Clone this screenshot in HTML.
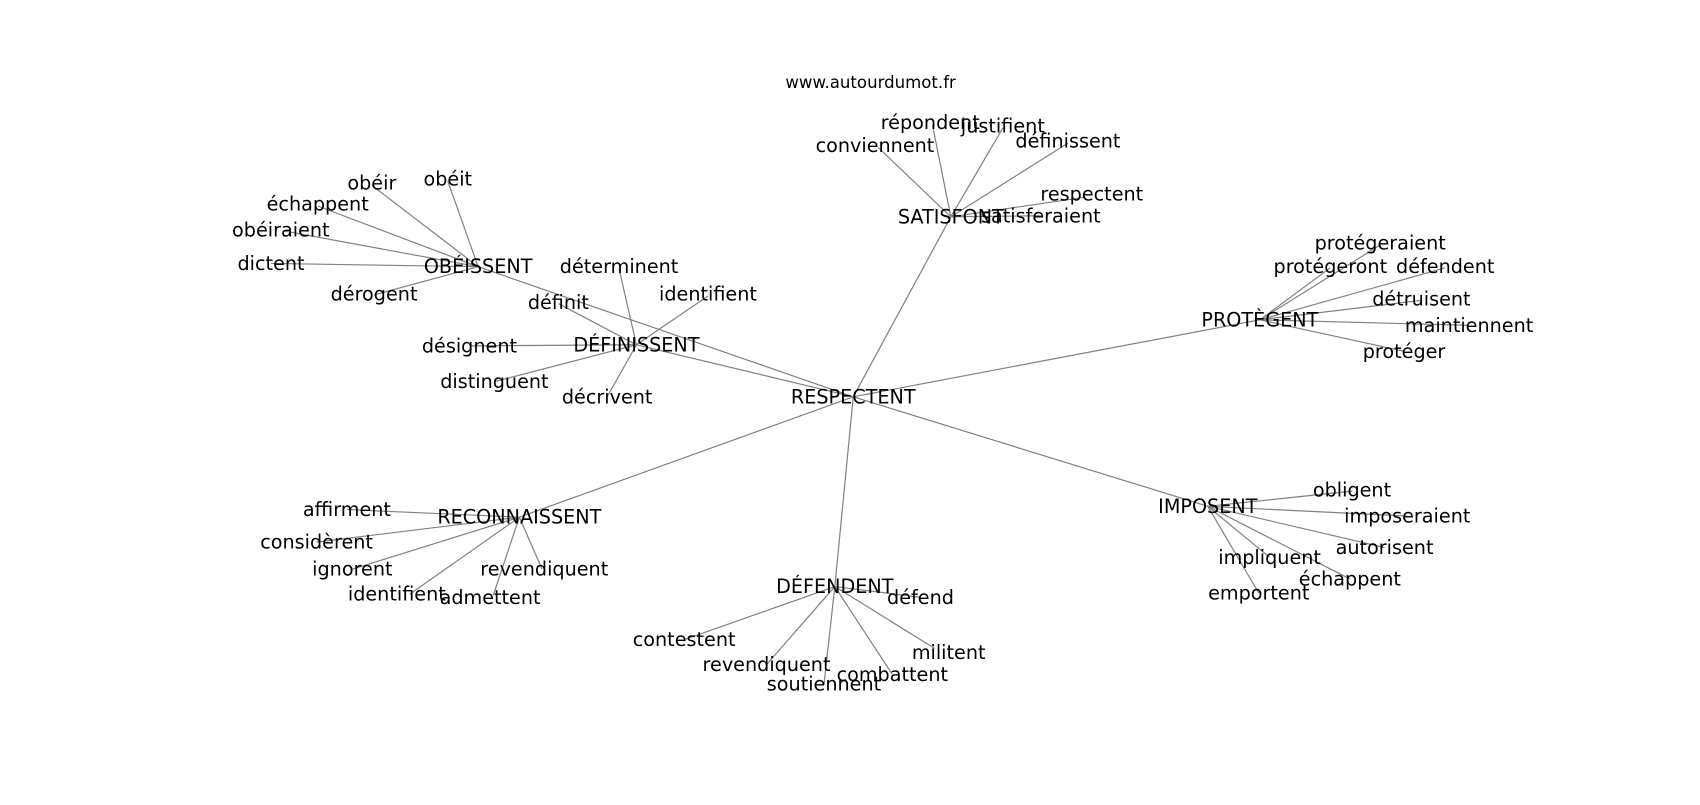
<!DOCTYPE html>
<html><head><meta charset="utf-8"><style>
html,body{margin:0;padding:0;background:#fff;}
svg text{font-family:"DejaVu Sans","Liberation Sans",sans-serif;font-size:17.7px;fill:#000;text-anchor:middle;dominant-baseline:central;}
svg line{stroke:#808080;stroke-width:1.1;}
</style></head><body>
<svg width="1700" height="800" viewBox="0 0 1700 800" xmlns="http://www.w3.org/2000/svg">
<g transform="scale(1.0842)">
<g>
<line x1="787" y1="366" x2="877" y2="200"/>
<line x1="787" y1="366" x2="441" y2="246"/>
<line x1="787" y1="366" x2="587" y2="318"/>
<line x1="787" y1="366" x2="1162" y2="295"/>
<line x1="787" y1="366" x2="1114" y2="467"/>
<line x1="787" y1="366" x2="770" y2="541"/>
<line x1="787" y1="366" x2="479" y2="477"/>

<line x1="877" y1="200" x2="810" y2="136"/>
<line x1="877" y1="200" x2="860" y2="115"/>
<line x1="877" y1="200" x2="925" y2="118"/>
<line x1="877" y1="200" x2="985" y2="132"/>
<line x1="877" y1="200" x2="1000" y2="182"/>
<line x1="877" y1="200" x2="960" y2="199"/>

<line x1="441" y1="246" x2="343" y2="171"/>
<line x1="441" y1="246" x2="413" y2="167"/>
<line x1="441" y1="246" x2="293" y2="190"/>
<line x1="441" y1="246" x2="262" y2="213"/>
<line x1="441" y1="246" x2="250" y2="243"/>
<line x1="441" y1="246" x2="345" y2="272"/>

<line x1="587" y1="318" x2="571" y2="248"/>
<line x1="587" y1="318" x2="653" y2="273"/>
<line x1="587" y1="318" x2="515" y2="280"/>
<line x1="587" y1="318" x2="433" y2="319"/>
<line x1="587" y1="318" x2="456" y2="352"/>
<line x1="587" y1="318" x2="560" y2="366"/>

<line x1="1162" y1="295" x2="1273" y2="226"/>
<line x1="1162" y1="295" x2="1227" y2="247"/>
<line x1="1162" y1="295" x2="1333" y2="247"/>
<line x1="1162" y1="295" x2="1311" y2="277"/>
<line x1="1162" y1="295" x2="1353" y2="300"/>
<line x1="1162" y1="295" x2="1295" y2="324"/>

<line x1="1114" y1="467" x2="1247" y2="453"/>
<line x1="1114" y1="467" x2="1298" y2="476"/>
<line x1="1114" y1="467" x2="1277" y2="505"/>
<line x1="1114" y1="467" x2="1171" y2="514"/>
<line x1="1114" y1="467" x2="1245" y2="534"/>
<line x1="1114" y1="467" x2="1161" y2="547"/>

<line x1="770" y1="541" x2="849" y2="551"/>
<line x1="770" y1="541" x2="631" y2="590"/>
<line x1="770" y1="541" x2="707" y2="613"/>
<line x1="770" y1="541" x2="760" y2="631"/>
<line x1="770" y1="541" x2="823" y2="622"/>
<line x1="770" y1="541" x2="862" y2="598"/>

<line x1="479" y1="477" x2="320" y2="470"/>
<line x1="479" y1="477" x2="292" y2="500"/>
<line x1="479" y1="477" x2="325" y2="525"/>
<line x1="479" y1="477" x2="378" y2="548"/>
<line x1="479" y1="477" x2="455" y2="549"/>
<line x1="479" y1="477" x2="500" y2="525"/>
</g>
<text x="803" y="76" style="font-size:15.3px">www.autourdumot.fr</text>
<text x="787" y="366">RESPECTENT</text>
<text x="877" y="200">SATISFONT</text>
<text x="807" y="134">conviennent</text>
<text x="858" y="113">répondent</text>
<text x="925" y="116">justifient</text>
<text x="985" y="130">définissent</text>
<text x="1007" y="179">respectent</text>
<text x="960" y="199">satisferaient</text>
<text x="441" y="246">OBÉISSENT</text>
<text x="343" y="169">obéir</text>
<text x="413" y="165">obéit</text>
<text x="293" y="188">échappent</text>
<text x="259" y="212">obéiraient</text>
<text x="250" y="243">dictent</text>
<text x="345" y="271">dérogent</text>
<text x="587" y="318">DÉFINISSENT</text>
<text x="571" y="246">déterminent</text>
<text x="653" y="271">identifient</text>
<text x="515" y="279">définit</text>
<text x="433" y="319">désignent</text>
<text x="456" y="352">distinguent</text>
<text x="560" y="366">décrivent</text>
<text x="1162" y="295">PROTÈGENT</text>
<text x="1273" y="224">protégeraient</text>
<text x="1227" y="246">protégeront</text>
<text x="1333" y="246">défendent</text>
<text x="1311" y="276">détruisent</text>
<text x="1355" y="300">maintiennent</text>
<text x="1295" y="324">protéger</text>
<text x="1114" y="467">IMPOSENT</text>
<text x="1247" y="452">obligent</text>
<text x="1298" y="476">imposeraient</text>
<text x="1277" y="505">autorisent</text>
<text x="1171" y="514">impliquent</text>
<text x="1245" y="534">échappent</text>
<text x="1161" y="547">emportent</text>
<text x="770" y="541">DÉFENDENT</text>
<text x="849" y="551">défend</text>
<text x="631" y="590">contestent</text>
<text x="707" y="613">revendiquent</text>
<text x="760" y="631">soutiennent</text>
<text x="823" y="622">combattent</text>
<text x="875" y="602">militent</text>
<text x="479" y="477">RECONNAISSENT</text>
<text x="320" y="470">affirment</text>
<text x="292" y="500">considèrent</text>
<text x="325" y="525">ignorent</text>
<text x="366" y="548">identifient</text>
<text x="452" y="551">admettent</text>
<text x="502" y="525">revendiquent</text>
</g>
</svg>
</body></html>
